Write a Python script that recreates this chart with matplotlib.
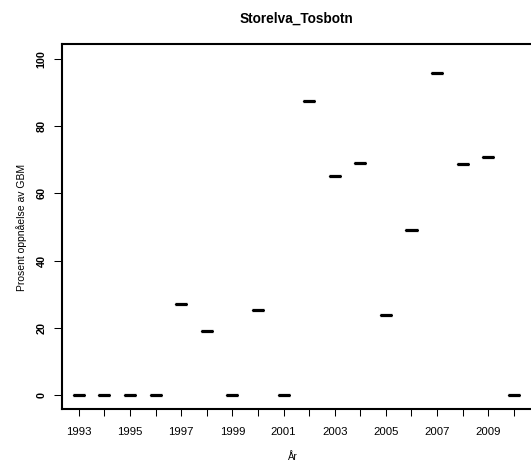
import matplotlib
matplotlib.use('Agg')
import matplotlib.pyplot as plt
import numpy as np

years = list(range(1993, 2011))
values = [0, 0, 0, 0, 27.1, 18.9, 0, 25.3, 0, 87.3, 65.0, 68.9, 23.9, 49.1, 95.7, 68.6, 70.7, 0]
yticks = [0, 20, 40, 60, 80, 100]
xlabels = [str(y) if y % 2 == 1 else '' for y in years]

plt.rcParams['font.family'] = ['Liberation Sans', 'DejaVu Sans']

fig = plt.figure(figsize=(5.31, 4.62), dpi=100)
W, H = 531, 462
ax = fig.add_axes([61.7 / W, 1 - 409.3 / H, 1 - 61.7 / W, (409.3 - 44.3) / H])

# one value per year -> boxes collapse to the median line, like R's boxplot
ax.boxplot([[v] for v in values], positions=years, widths=0.47,
           showcaps=False, showfliers=False, manage_ticks=False,
           medianprops=dict(color='black', lw=2.3, solid_capstyle='butt'),
           boxprops=dict(color='black', lw=0.8),
           whiskerprops=dict(color='black', lw=0.8))

ax.set_xlim(1992.33, 2010.67)
ax.set_ylim(-4.25, 104.3)

ax.set_xticks(years)
ax.set_xticklabels(xlabels, fontsize=8.2)
ax.set_yticks(yticks)
ax.set_yticklabels([str(t) for t in yticks], fontsize=7.8, fontweight='bold',
                   rotation=90, va='center')

ax.tick_params(axis='x', length=5, width=0.75, pad=8)
ax.tick_params(axis='y', length=5.8, width=0.75, pad=5)

ax.spines['right'].set_visible(False)
for s in ['left', 'top', 'bottom']:
    ax.spines[s].set_linewidth(1.5)

fig.text(296 / W, 1 - 19 / H, 'Storelva_Tosbotn', ha='center', va='center',
         fontsize=9.8, fontweight='bold')
fig.text(22 / W, 1 - 227 / H, 'Prosent oppnåelse av GBM', ha='center', va='center',
         rotation=90, fontsize=7.5)
fig.text(293 / W, 1 - 457 / H, 'År', ha='center', va='center', fontsize=7)

plt.savefig('out.png', dpi=100)
